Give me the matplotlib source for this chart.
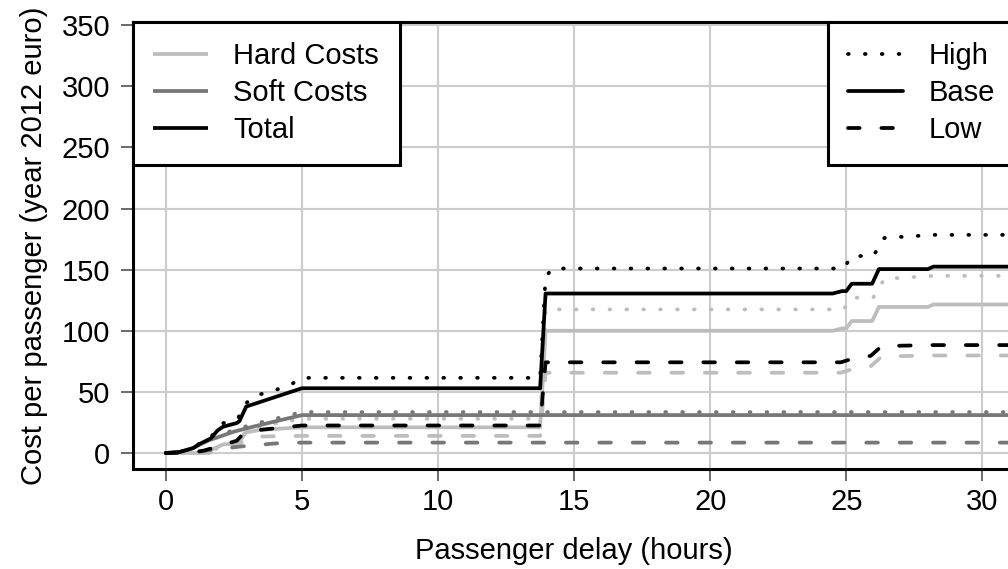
import matplotlib
matplotlib.use("Agg")
import matplotlib.pyplot as plt
from matplotlib.lines import Line2D

plt.rcParams['font.family'] = ['Liberation Sans', 'DejaVu Sans']

# Delay (hours) / cost per passenger (euro, 2012) for each cost type and scenario
total_base_x = [0, 0.5, 1.0, 1.25, 1.65, 1.9, 2.1, 2.6, 2.7, 2.95, 5.0, 13.75, 13.95,
                24.5, 24.85, 25.0, 25.2, 25.95, 26.2, 28.0, 28.2, 31.5]
total_base_y = [0, 0.8, 4, 7.5, 12, 18.5, 21.5, 24.5, 26, 38, 53, 53, 130.5,
                130.5, 132.5, 132.5, 138.5, 138.5, 150.5, 150.5, 152.5, 152.5]

total_high_x = [0, 0.5, 1.0, 1.25, 1.65, 2.05, 2.65, 2.9, 3.3, 3.95, 4.55, 5.0,
                13.75, 13.95, 14.2, 24.9, 25.2, 26.0, 26.4, 28.2, 31.5]
total_high_y = [0, 0.8, 4.2, 8, 13, 24, 28.5, 40, 47, 51, 55.5, 61.5,
                61.5, 144, 151, 151, 161, 161.5, 176, 178.5, 178.5]

total_low_x = [0, 1.0, 1.4, 2.0, 2.6, 2.85, 3.5, 5.0, 13.75, 13.95,
               24.8, 25.2, 25.9, 26.3, 28.2, 31.5]
total_low_y = [0, 0.5, 2, 6, 10, 16, 19, 22.5, 22.5, 74.2,
               74.2, 77, 79.5, 87.5, 88.3, 88.3]

hard_base_x = [0, 1.4, 1.9, 2.1, 2.65, 2.95, 3.5, 5.0, 13.75, 13.95,
               24.5, 24.85, 25.0, 25.2, 25.95, 26.2, 28.0, 28.2, 31.5]
hard_base_y = [0, 0, 5, 7, 8, 17, 19, 21, 21, 100,
               100, 102, 102, 108, 108, 119.5, 119.5, 121.5, 121.5]

hard_high_x = [0, 1.4, 2.05, 2.65, 2.9, 3.3, 4.0, 5.0, 13.75, 13.95,
               24.9, 25.2, 26.0, 26.4, 28.2, 31.5]
hard_high_y = [0, 0, 5, 8, 17, 20, 24, 28, 28, 117.5,
               117.5, 127, 127.5, 142.5, 145, 145]

hard_low_x = [0, 1.6, 2.0, 2.6, 2.9, 3.5, 5.0, 13.75, 13.95,
              24.8, 25.2, 25.9, 26.3, 28.2, 31.5]
hard_low_y = [0, 0, 3, 5, 11, 13.5, 14, 14, 65.7,
              65.7, 68.5, 71, 79, 79.8, 79.8]

soft_base_x = [0, 0.5, 1.0, 1.25, 1.6, 2.5, 3.2, 4.0, 5.0, 31.5]
soft_base_y = [0, 0.8, 4, 7, 10.5, 17.5, 21.5, 25.8, 31, 31]

soft_high_x = [0, 0.5, 1.0, 1.25, 1.6, 2.5, 3.2, 4.0, 5.0, 31.5]
soft_high_y = [0, 0.8, 4.2, 7.5, 11.5, 19, 23.5, 28, 33.5, 33.5]

soft_low_x = [0, 1.0, 1.5, 2.6, 4.0, 5.0, 31.5]
soft_low_y = [0, 0.5, 2, 5, 7.8, 8.5, 8.5]

x_ticks = [0, 5, 10, 15, 20, 25, 30]
y_ticks = [0, 50, 100, 150, 200, 250, 300, 350]

cost_labels = ["Hard Costs", "Soft Costs", "Total"]
scenario_labels = ["High", "Base", "Low"]

# Styling
c_hard = "#bdbdbd"
c_soft = "#777777"
c_total = "#000000"
LW = 2.7
styles = {
    "High": dict(linestyle=(0, (0.2, 4.3)), dash_capstyle="round"),
    "Base": dict(linestyle="-", solid_capstyle="round"),
    "Low": dict(linestyle=(0, (3.1, 5.8)), dash_capstyle="round"),
}
FS = 21

W, H = 1008, 569
fig = plt.figure(figsize=(W / 100, H / 100), dpi=100)
ax = fig.add_axes([133 / W, (H - 469) / H, (1015 - 133) / W, (469 - 22) / H])

series = [
    (hard_high_x, hard_high_y, c_hard, "High"),
    (hard_base_x, hard_base_y, c_hard, "Base"),
    (hard_low_x, hard_low_y, c_hard, "Low"),
    (soft_high_x, soft_high_y, c_soft, "High"),
    (soft_base_x, soft_base_y, c_soft, "Base"),
    (soft_low_x, soft_low_y, c_soft, "Low"),
    (total_high_x, total_high_y, c_total, "High"),
    (total_base_x, total_base_y, c_total, "Base"),
    (total_low_x, total_low_y, c_total, "Low"),
]
for xs, ys, col, scen in series:
    ax.plot(xs, ys, color=col, lw=LW, zorder=3, **styles[scen])

ax.set_xlim(-1.21, 31.2)
ax.set_ylim(-13.1, 352.7)
ax.set_xticks(x_ticks)
ax.set_yticks(y_ticks)
ax.grid(True, color="#cccccc", lw=1.5, zorder=0)
ax.set_axisbelow(True)

for side in ["left", "bottom", "top", "right"]:
    ax.spines[side].set_linewidth(2.2)
    ax.spines[side].set_color("black")
ax.tick_params(axis="both", direction="out", length=8.5, width=1.1,
               color="#444444", labelsize=FS)
ax.tick_params(axis="x", pad=5)
ax.tick_params(axis="y", pad=8)

ax.set_xlabel("Passenger delay (hours)", fontsize=FS, labelpad=15)
ax.set_ylabel("Cost per passenger (year 2012 euro)", fontsize=FS, labelpad=10)

legend_kw = dict(borderaxespad=0, fontsize=FS, handlelength=1.88, handletextpad=0.86,
                 labelspacing=0.31, borderpad=0.7, fancybox=False, framealpha=1,
                 edgecolor="black")

# Legend: cost type
h1 = [Line2D([], [], color=c, lw=LW, solid_capstyle="butt") for c in (c_hard, c_soft, c_total)]
leg1 = ax.legend(h1, cost_labels, loc="upper left", bbox_to_anchor=(0, 1), **legend_kw)
leg1.get_frame().set_linewidth(2.2)
ax.add_artist(leg1)

# Legend: scenario
h2 = [Line2D([], [], color="black", lw=LW, **styles[s]) for s in scenario_labels]
leg2 = ax.legend(h2, scenario_labels, loc="upper right", bbox_to_anchor=(1, 1), **legend_kw)
leg2.get_frame().set_linewidth(2.2)

fig.savefig("out.png", dpi=100)
